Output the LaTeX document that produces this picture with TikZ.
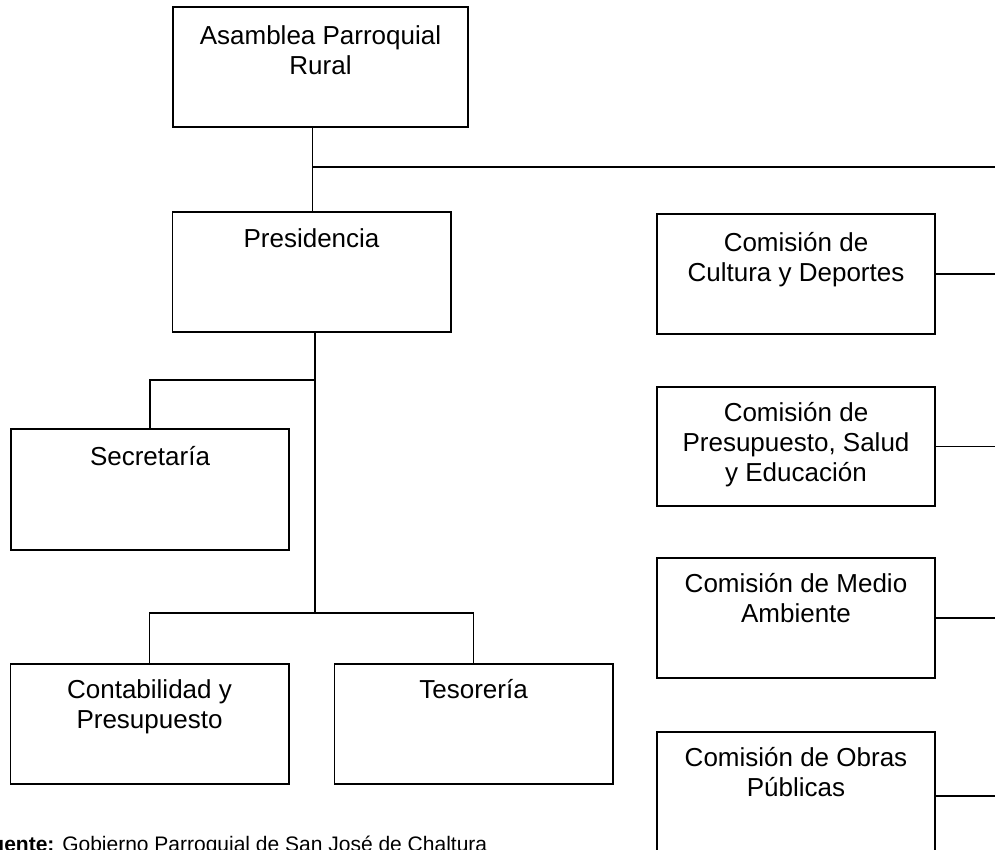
\documentclass[tikz,border=0pt]{standalone}
\usepackage{fontspec}
\setmainfont{Liberation Sans}
\begin{document}
\begin{tikzpicture}[x=0.75pt,y=-0.75pt,
  box/.style={draw=black,line width=1pt,rectangle,inner sep=0pt,minimum width=209pt,minimum height=90pt},
  lbl/.style={anchor=north,inner sep=0pt,align=center,font=\fontsize{19.5pt}{22.5pt}\selectfont},
  conn/.style={draw=black,line width=1pt},
  src/.style={anchor=base west,inner sep=0pt,font=\fontsize{15.75pt}{18pt}\selectfont}]
\useasboundingbox (0,0) rectangle (995,849);
\clip (0,0) rectangle (995,849);
\fill[white] (0,0) rectangle (995,849);

% boxes
\node[box,minimum width=221.25pt] (asam) at (320.5,67) {};
\node[box] (pres) at (311.5,272) {};
\node[box,minimum width=208.5pt,minimum height=90.75pt] (secr) at (150,489.5) {};
\node[box] (conta) at (149.5,724) {};
\node[box] (teso) at (473.5,724) {};
\node[box,minimum width=208.5pt] (cult) at (796,274) {};
\node[box,minimum width=208.5pt,minimum height=89.25pt] (presu) at (796,446.5) {};
\node[box,minimum width=208.5pt] (medio) at (796,618) {};
\node[box,minimum width=208.5pt] (obras) at (796,792) {};

% labels
\node[lbl] (asamT) at (asam.north) {\rule{0pt}{28.5pt}Asamblea Parroquial\\Rural};
\node[lbl] (presT) at (pres.north) {\rule{0pt}{27pt}Presidencia};
\node[lbl] (secrT) at (secr.north) {\rule{0pt}{27.75pt}Secretaría};
\node[lbl] (contaT) at (conta.north) {\rule{0pt}{26.25pt}Contabilidad y\\Presupuesto};
\node[lbl] (tesoT) at (teso.north) {\rule{0pt}{26.25pt}Tesorería};
\node[lbl] (cultT) at (cult.north) {\rule{0pt}{28.5pt}Comisión de\\Cultura y Deportes};
\node[lbl] (presuT) at (presu.north) {\rule{0pt}{26.25pt}Comisión de\\Presupuesto, Salud\\y Educación};
\node[lbl] (medioT) at (medio.north) {\rule{0pt}{26.25pt}Comisión de Medio\\Ambiente};
\node[lbl] (obrasT) at (obras.north) {\rule{0pt}{26.25pt}Comisión de Obras\\Públicas};

% junction coordinates
\coordinate (hub1) at (312.5,167);
\coordinate (edge1) at (1000,167);
\coordinate (hub2) at (315,380);
\coordinate (hub3) at (315,613);
\coordinate (e2) at (1000,277);
\coordinate (e3) at (1000,446);
\coordinate (e4) at (1000,618);
\coordinate (e5) at (1000,796);

% connectors
\draw[conn] (hub1 |- asam.south) -- (hub1 |- pres.north);
\draw[conn] (hub1) -- (edge1);
\draw[conn] (hub3 |- pres.south) -- (hub3);
\draw[conn] (hub2) -| (secr.north);
\draw[conn] (conta.north) |- (hub3) -| (teso.north);
\draw[conn] (cult.east) -- (cult.east -| e2);
\draw[conn] (presu.east) -- (presu.east -| e3);
\draw[conn] (medio.east) -- (medio.east -| e4);
\draw[conn] (obras.east |- e5) -- (e5);

% source
\node[src] (fuente) at (62,851) {\llap{\textbf{Fuente:} }Gobierno Parroquial de San José de Chaltura};
\end{tikzpicture}
\end{document}
